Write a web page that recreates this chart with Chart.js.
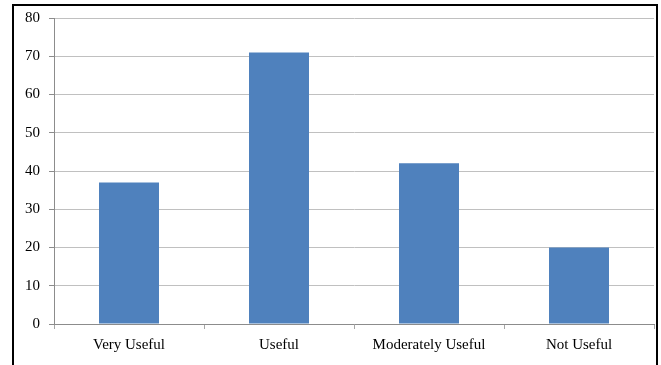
<!DOCTYPE html>
<html>
<head>
<meta charset="utf-8">
<script src="https://cdn.jsdelivr.net/npm/chart.js@4"></script>
<style>
  html, body { margin: 0; padding: 0; background: #fff; }
  #wrap { position: relative; width: 661px; height: 365px; overflow: hidden; }
  #frame { position: absolute; left: 12px; top: 4px; width: 642px; height: 400px;
           border: 2px solid #000; border-bottom: none; pointer-events: none; }
  canvas { position: absolute; left: 0; top: 0; }
</style>
</head>
<body>
<div id="wrap">
  <canvas id="chart" width="661" height="365"></canvas>
  <div id="frame"></div>
</div>
<script>
const categories = ['Very Useful', 'Useful', 'Moderately Useful', 'Not Useful'];
const responses = [37, 71, 42, 20];
const yTicks = [0, 10, 20, 30, 40, 50, 60, 70, 80];

const serif = "'Liberation Serif', 'Times New Roman', serif";

new Chart(document.getElementById('chart'), {
  type: 'bar',
  data: {
    labels: categories,
    datasets: [{
      data: responses,
      backgroundColor: '#4f81bd',
      borderWidth: 0,
      categoryPercentage: 1.0,
      barPercentage: 0.4
    }]
  },
  options: {
    responsive: false,
    animation: false,
    layout: { padding: { left: 0, right: 7, top: 18, bottom: 0 } },
    plugins: { legend: { display: false }, tooltip: { enabled: false } },
    scales: {
      x: {
        grid: { display: true, drawOnChartArea: false, drawTicks: true, tickLength: 5,
                offset: true, tickColor: '#a6a6a6' },
        border: { color: '#8c8c8c', width: 1 },
        ticks: { color: '#000', font: { family: serif, size: 15 }, padding: 7, maxRotation: 0 },
        afterFit: s => { s.height = 41; }
      },
      y: {
        min: 0, max: 80,
        afterBuildTicks: s => { s.ticks = yTicks.map(v => ({ value: v })); },
        grid: { color: '#c0c0c0', tickColor: '#8c8c8c', tickLength: 5, drawTicks: true },
        border: { color: '#8c8c8c', width: 1 },
        ticks: { color: '#000', font: { family: serif, size: 15 }, padding: 9 },
        afterFit: s => { s.width = 54; }
      }
    }
  }
});
</script>
</body>
</html>
